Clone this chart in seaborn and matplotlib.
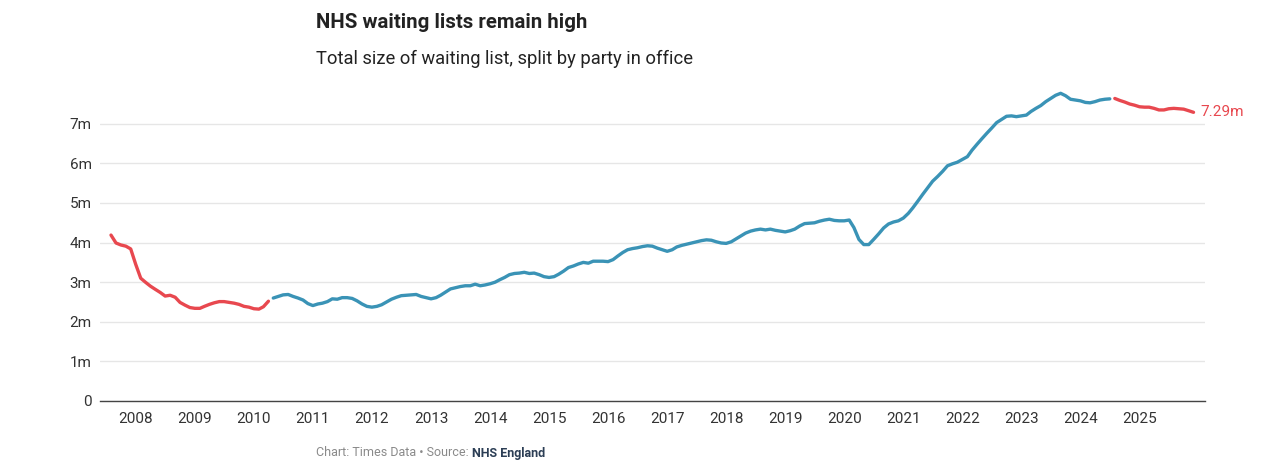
import pandas as pd
import numpy as np
import matplotlib
matplotlib.use("Agg")
from matplotlib import pyplot as plt
import matplotlib.dates as mdates
import seaborn as sns

# monthly waiting list size (millions), Aug 2007 - Dec 2025
v2007 = [4.19, 3.99, 3.94, 3.91, 3.84]
v2008 = [3.45, 3.10, 3.00, 2.90, 2.82, 2.74, 2.65, 2.67, 2.62, 2.49, 2.42, 2.36]
v2009 = [2.34, 2.34, 2.39, 2.44, 2.48, 2.51, 2.51, 2.49, 2.47, 2.44, 2.39, 2.37]
v2010 = [2.33, 2.32, 2.38, 2.52, 2.60, 2.64, 2.68, 2.69, 2.64, 2.60, 2.55, 2.46]
v2011 = [2.41, 2.45, 2.47, 2.51, 2.58, 2.57, 2.61, 2.61, 2.59, 2.53, 2.45, 2.39]
v2012 = [2.37, 2.39, 2.43, 2.50, 2.57, 2.62, 2.66, 2.67, 2.68, 2.69, 2.64, 2.61]
v2013 = [2.58, 2.61, 2.67, 2.75, 2.83, 2.86, 2.89, 2.91, 2.91, 2.95, 2.91, 2.93]
v2014 = [2.96, 3.00, 3.06, 3.12, 3.19, 3.22, 3.23, 3.25, 3.22, 3.23, 3.19, 3.14]
v2015 = [3.12, 3.14, 3.20, 3.28, 3.37, 3.41, 3.46, 3.50, 3.48, 3.53, 3.53, 3.53]
v2016 = [3.52, 3.57, 3.66, 3.75, 3.82, 3.85, 3.87, 3.90, 3.92, 3.91, 3.86, 3.82]
v2017 = [3.78, 3.82, 3.89, 3.93, 3.96, 3.99, 4.02, 4.05, 4.07, 4.06, 4.02, 3.99]
v2018 = [3.98, 4.02, 4.09, 4.17, 4.24, 4.29, 4.32, 4.34, 4.32, 4.34, 4.31, 4.29]
v2019 = [4.27, 4.30, 4.34, 4.42, 4.48, 4.49, 4.50, 4.54, 4.57, 4.59, 4.56, 4.55]
v2020 = [4.55, 4.57, 4.38, 4.08, 3.95, 3.95, 4.08, 4.22, 4.37, 4.47, 4.52, 4.55]
v2021 = [4.62, 4.74, 4.88, 5.05, 5.22, 5.39, 5.55, 5.67, 5.80, 5.94, 5.99, 6.03]
v2022 = [6.10, 6.17, 6.33, 6.48, 6.62, 6.76, 6.89, 7.03, 7.11, 7.19, 7.20, 7.18]
v2023 = [7.20, 7.22, 7.31, 7.39, 7.46, 7.56, 7.64, 7.72, 7.77, 7.71, 7.62, 7.60]
v2024 = [7.58, 7.54, 7.53, 7.56, 7.60, 7.62, 7.63, 7.64, 7.59, 7.55, 7.50, 7.47]
v2025 = [7.43, 7.42, 7.42, 7.39, 7.35, 7.35, 7.38, 7.39, 7.38, 7.37, 7.33, 7.29]

values = (v2007 + v2008 + v2009 + v2010 + v2011 + v2012 + v2013 + v2014 + v2015
          + v2016 + v2017 + v2018 + v2019 + v2020 + v2021 + v2022 + v2023 + v2024 + v2025)
dates = pd.date_range("2007-08-01", periods=len(values), freq="MS")

# party in office: first month of each spell
spells = [("Labour", "2007-08-01"), ("Conservative", "2010-05-01"), ("Labour", "2024-08-01")]
year_ticks = list(range(2008, 2026))
y_ticks = [0, 1, 2, 3, 4, 5, 6, 7]
y_labels = ["0", "1m", "2m", "3m", "4m", "5m", "6m", "7m"]

RED = "#e8484f"
BLUE = "#3a93b6"

df = pd.DataFrame({"date": dates, "value": values})
starts = pd.to_datetime([s[1] for s in spells])
df["segment"] = np.searchsorted(starts, df["date"], side="right") - 1
df["party"] = [spells[i][0] for i in df["segment"]]

sns.set_style("white")
plt.rcParams["font.family"] = ["Roboto", "DejaVu Sans"]

fig = plt.figure(figsize=(12.8, 4.7), dpi=100)
ax = fig.add_axes([100 / 1280, 69 / 470, 1105 / 1280, (401 - 84.2) / 470])

sns.lineplot(data=df, x="date", y="value", hue="party", units="segment",
             estimator=None, palette={"Labour": RED, "Conservative": BLUE},
             linewidth=2.4, legend=False, ax=ax)
for line in ax.lines:
    line.set_solid_capstyle("round")
    line.set_solid_joinstyle("round")

ax.set_ylim(0, 8)
ax.set_yticks(y_ticks)
ax.set_yticklabels(y_labels)
ax.set_xlim(pd.Timestamp("2007-05-25"), pd.Timestamp("2026-02-10"))
ax.set_xticks([pd.Timestamp(f"{y}-01-01") for y in year_ticks])
ax.xaxis.set_major_formatter(mdates.DateFormatter("%Y"))
ax.set_xlabel("")
ax.set_ylabel("")

for s in ["top", "right", "left"]:
    ax.spines[s].set_visible(False)
ax.spines["bottom"].set_color("#444444")
ax.spines["bottom"].set_linewidth(1.0)
ax.grid(axis="y", color="#e6e6e6", linewidth=1.0)
ax.grid(axis="x", visible=False)
ax.tick_params(axis="both", length=0, labelsize=11, labelcolor="#333333")
ax.tick_params(axis="x", pad=8)
ax.tick_params(axis="y", pad=6)

ax.annotate(f"{values[-1]:.2f}m", xy=(dates[-1], values[-1]), xytext=(5, 0),
            textcoords="offset points", va="center", ha="left",
            color=RED, fontsize=11)

fig.text(316 / 1280, 1 - 22 / 470, "NHS waiting lists remain high",
         fontsize=14.7, fontweight="bold", color="#222222", va="center", ha="left")
fig.text(316 / 1280, 1 - 59 / 470, "Total size of waiting list, split by party in office",
         fontsize=13.2, color="#222222", va="center", ha="left")

foot = fig.text(316 / 1280, 1 - 453 / 470, "Chart: Times Data \u2022 Source: ",
                fontsize=9, color="#8a8a8a", va="center", ha="left")
fig.canvas.draw()
bb = foot.get_window_extent().transformed(fig.transFigure.inverted())
fig.text(bb.x1, 1 - 453 / 470, "NHS England", fontsize=9, fontweight="bold",
         color="#2c3e55", va="center", ha="left")

fig.savefig("out.png", dpi=100)
